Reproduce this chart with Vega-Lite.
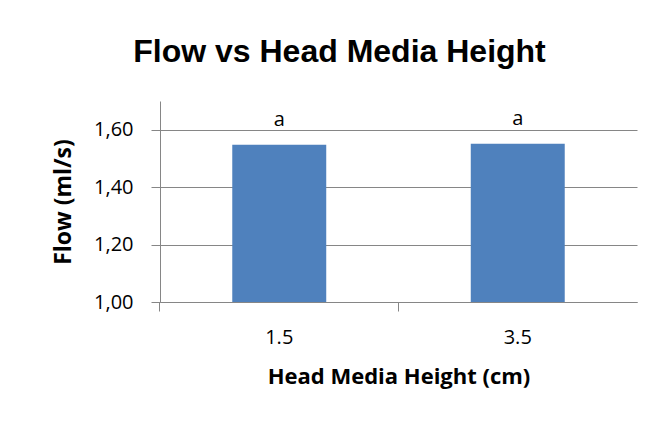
{
  "$schema": "https://vega.github.io/schema/vega-lite/v6.json",
  "autosize": "none",
  "width": 477,
  "height": 201,
  "padding": {"left": 160, "top": 101, "right": 14, "bottom": 119},
  "background": "white",
  "config": {
    "view": {"stroke": null},
    "font": "Open Sans"
  },
  "title": {
    "text": "Flow vs Head Media Height",
    "font": "Liberation Sans",
    "fontSize": 32,
    "fontWeight": "bold",
    "color": "black",
    "frame": "group",
    "anchor": "middle",
    "baseline": "alphabetic",
    "offset": 7,
    "dx": -59
  },
  "data": {
    "values": [
      {"height": "1.5", "flow": 1.548, "letter": "a"},
      {"height": "3.5", "flow": 1.551, "letter": "a"}
    ]
  },
  "encoding": {
    "x": {
      "field": "height",
      "type": "nominal",
      "sort": null,
      "scale": {"paddingInner": 0.606, "paddingOuter": 0.303},
      "axis": {
        "title": "Head Media Height (cm)",
        "titleFont": "Open Sans",
        "titleFontSize": 22,
        "titleFontWeight": "bold",
        "titleColor": "black",
        "titlePadding": 19,
        "labelAngle": 0,
        "labelFontSize": 20,
        "labelColor": "black",
        "labelPadding": 16,
        "domainColor": "#868686",
        "tickColor": "#868686",
        "tickSize": 9,
        "bandPosition": -0.77
      }
    },
    "y": {
      "field": "flow",
      "type": "quantitative",
      "scale": {"domain": [1.0, 1.7], "nice": false, "zero": false},
      "axis": {
        "title": "Flow (ml/s)",
        "titleFont": "Open Sans",
        "titleFontSize": 23,
        "titleFontWeight": "bold",
        "titleColor": "black",
        "titlePadding": 18,
        "values": [1.0, 1.2, 1.4, 1.6],
        "labelExpr": "replace(format(datum.value, '.2f'), '.', ',')",
        "labelFontSize": 20,
        "labelColor": "black",
        "labelPadding": 18,
        "domainColor": "#868686",
        "tickColor": "#868686",
        "tickSize": 9,
        "grid": true,
        "gridColor": "#868686",
        "gridWidth": 1
      }
    }
  },
  "layer": [
    {"mark": {"type": "bar", "color": "#4F81BD", "clip": true}},
    {
      "mark": {"type": "text", "fontSize": 20, "color": "black", "baseline": "alphabetic", "dy": -19},
      "encoding": {"text": {"field": "letter"}}
    }
  ]
}
